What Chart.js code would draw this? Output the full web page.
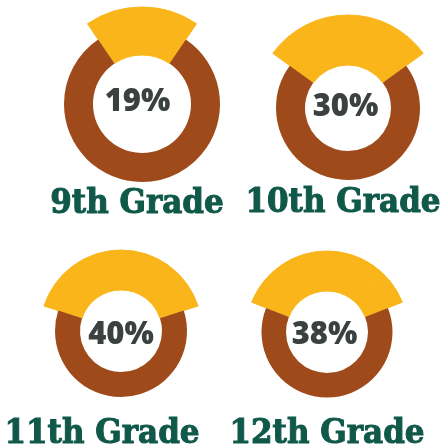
<!DOCTYPE html>
<html lang="en">
<head>
  <meta charset="UTF-8">
  <title>Students by Grade</title>
  <script src="https://cdn.jsdelivr.net/npm/chart.js"></script>
  <style>
    html, body { margin: 0; padding: 0; background: #fff; }
    #wrap { position: relative; width: 443px; height: 448px; overflow: hidden; }
    #wrap canvas { position: absolute; left: 0; top: 0; }
  </style>
</head>
<body>
  <div id="wrap">
    <canvas id="c0" width="443" height="448"></canvas>
    <canvas id="c1" width="443" height="448"></canvas>
    <canvas id="c2" width="443" height="448"></canvas>
    <canvas id="c3" width="443" height="448"></canvas>
  </div>
  <script>
    // data
    const grades = ['9th Grade', '10th Grade', '11th Grade', '12th Grade'];
    const percents = [19, 30, 40, 38];

    const YELLOW = '#f9b51a';
    const BROWN = '#9e4a1b';
    const GREEN = '#10594a';
    const GRAY = '#3b4040';

    // where each donut sits on the page (center, hole, ring, highlight radius)
    const layout = [
      { cx: 142, cy: 104, r0: 49, r1: 78, R: 97, tx: 137.5, ty: 111, lx: 137, ly: 213 },
      { cx: 348, cy: 108, r0: 43, r1: 72, R: 93, tx: 345.5, ty: 115.5, lx: 343, ly: 212 },
      { cx: 121, cy: 331, r0: 41, r1: 66, R: 81, tx: 121, ty: 344, lx: 102, ly: 443 },
      { cx: 327, cy: 332, r0: 41, r1: 65.5, R: 81, tx: 324.5, ty: 344, lx: 327, ly: 443 }
    ];

    // draws the percentage in the hole and the grade name under the donut
    const labelPlugin = {
      id: 'labels',
      afterDraw(chart) {
        const i = chart.options.plugins.labels.idx;
        const L = layout[i];
        const ctx = chart.ctx;
        ctx.save();
        ctx.textAlign = 'center';
        ctx.textBaseline = 'alphabetic';
        ctx.fillStyle = GRAY;
        ctx.font = '800 31px "Open Sans"';
        ctx.fillText(percents[i] + '%', L.tx, L.ty);
        // slab label, a bit taller and heavier than plain DejaVu Serif Bold
        ctx.translate(L.lx, L.ly);
        ctx.scale(1, 1.08);
        ctx.fillStyle = GREEN;
        ctx.strokeStyle = GREEN;
        ctx.lineWidth = 1;
        ctx.font = 'bold 31px "DejaVu Serif"';
        ctx.fillText(grades[i], 0, 0);
        ctx.strokeText(grades[i], 0, 0);
        ctx.restore();
      }
    };

    grades.forEach((g, i) => {
      const L = layout[i];
      const p = percents[i];
      new Chart(document.getElementById('c' + i), {
        type: 'doughnut',
        data: {
          labels: ['Share', 'Rest'],
          datasets: [
            {
              // outer band: only the highlighted slice shows
              data: [p, 100 - p],
              backgroundColor: [YELLOW, 'rgba(0,0,0,0)'],
              borderColor: [YELLOW, 'rgba(0,0,0,0)'],
              borderWidth: [1, 0],
              weight: L.R - L.r1
            },
            {
              data: [p, 100 - p],
              backgroundColor: [YELLOW, BROWN],
              borderColor: [YELLOW, BROWN],
              borderWidth: [1, 0],
              weight: L.r1 - L.r0
            }
          ]
        },
        options: {
          responsive: false,
          animation: false,
          radius: L.R,
          cutout: (L.r0 / L.R * 100) + '%',
          rotation: -p * 1.8,
          layout: {
            padding: { left: L.cx - L.R, top: L.cy - L.R, right: 443 - L.cx - L.R, bottom: 448 - L.cy - L.R }
          },
          plugins: {
            legend: { display: false },
            tooltip: { enabled: false },
            labels: { idx: i }
          }
        },
        plugins: [labelPlugin]
      });
    });
  </script>
</body>
</html>
